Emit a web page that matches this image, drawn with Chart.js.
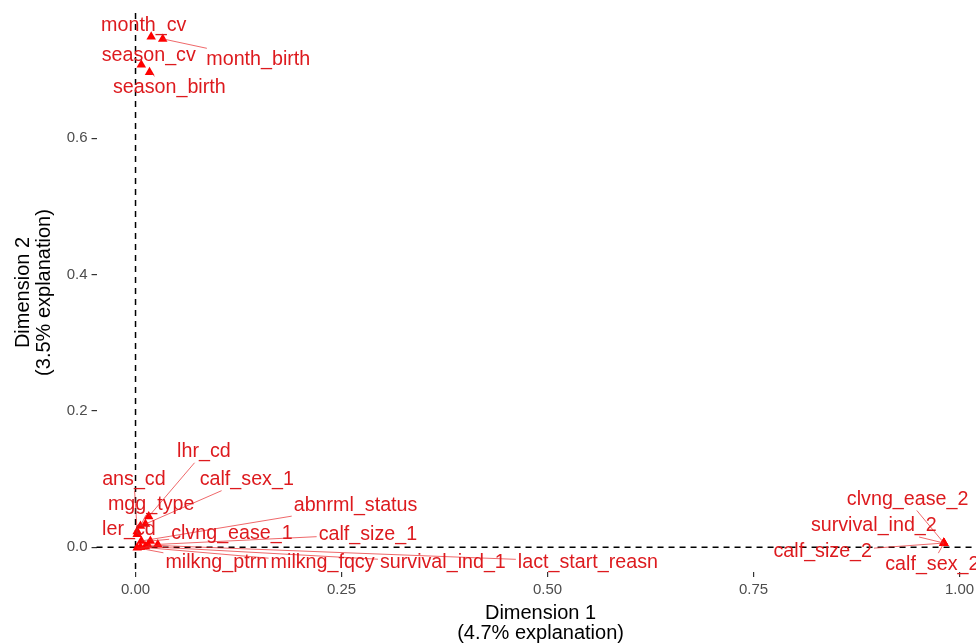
<!DOCTYPE html>
<html>
<head>
<meta charset="utf-8">
<script src="https://cdn.jsdelivr.net/npm/chart.js@4"></script>
<style>
html, body { margin: 0; padding: 0; background: #fff; overflow: hidden; width: 976px; height: 644px; }
</style>
</head>
<body>
<canvas id="chart" width="990" height="644"></canvas>
<script>
const categories = [
  'month_cv', 'month_birth', 'season_cv', 'season_birth',
  'lhr_cd', 'ans_cd', 'calf_sex_1', 'mgg_type', 'ler_cd',
  'abnrml_status', 'clvng_ease_1', 'calf_size_1',
  'milkng_ptrn', 'milkng_fqcy', 'survival_ind_1', 'lact_start_reasn',
  'clvng_ease_2', 'survival_ind_2', 'calf_size_2', 'calf_sex_2'
];
// point coordinates
const dim1 = [0.019, 0.033, 0.007, 0.017,
  0.016, 0.002, 0.012, 0.006, 0.002,
  0.007, 0.018, 0.027,
  0.002, 0.006, 0.012, 0.015,
  0.981, 0.981, 0.981, 0.981];
const dim2 = [0.749, 0.746, 0.708, 0.697,
  0.045, 0.023, 0.034, 0.031, 0.019,
  0.009, 0.009, 0.004,
  -0.001, 0.000, 0.001, 0.003,
  0.006, 0.006, 0.006, 0.006];
// where the repelled labels ended up
const labelDim1 = [0.010, 0.149, 0.016, 0.041,
  0.083, -0.002, 0.135, 0.019, -0.008,
  0.267, 0.117, 0.282,
  0.098, 0.227, 0.373, 0.549,
  0.937, 0.896, 0.834, 0.967];
const labelDim2 = [0.766, 0.716, 0.722, 0.675,
  0.140, 0.099, 0.099, 0.063, 0.026,
  0.061, 0.020, 0.019,
  -0.023, -0.023, -0.023, -0.022,
  0.070, 0.031, -0.007, -0.025];

const xTicks = [0, 0.25, 0.5, 0.75, 1];
const yTicks = [0, 0.2, 0.4, 0.6];

const FONT = '"Liberation Sans", Arial, sans-serif';

const zeroLines = {
  id: 'zeroLines',
  beforeDatasetsDraw(chart) {
    const { ctx, chartArea: a, scales: { x, y } } = chart;
    const x0 = x.getPixelForValue(0);
    const y0 = y.getPixelForValue(0);
    ctx.save();
    ctx.strokeStyle = '#000';
    ctx.lineWidth = 1.5;
    ctx.setLineDash([6, 5]);
    ctx.beginPath();
    ctx.moveTo(x0, a.top);
    ctx.lineTo(x0, a.bottom);
    ctx.moveTo(a.left, y0);
    ctx.lineTo(a.right, y0);
    ctx.stroke();
    ctx.restore();
  }
};

const repelLabels = {
  id: 'repelLabels',
  afterDatasetsDraw(chart) {
    const { ctx, scales: { x, y } } = chart;
    ctx.save();
    ctx.font = '19.7px ' + FONT;
    ctx.textAlign = 'center';
    ctx.textBaseline = 'middle';
    ctx.strokeStyle = '#e8262a';
    ctx.lineWidth = 0.7;
    categories.forEach((name, i) => {
      const px = x.getPixelForValue(dim1[i]);
      const py = y.getPixelForValue(dim2[i]);
      const lx = x.getPixelForValue(labelDim1[i]);
      const ly = y.getPixelForValue(labelDim2[i]);
      const w = ctx.measureText(name).width / 2 + 2;
      const h = 11;
      const dx = px - lx, dy = py - ly;
      const t = Math.min(dx ? w / Math.abs(dx) : Infinity, dy ? h / Math.abs(dy) : Infinity);
      if (t < 1) {
        const ex = lx + dx * t, ey = ly + dy * t;
        if (Math.hypot(px - ex, py - ey) > 6) {
          ctx.beginPath();
          ctx.moveTo(px, py);
          ctx.lineTo(ex, ey);
          ctx.stroke();
        }
      }
    });
    ctx.fillStyle = '#dd1a1e';
    categories.forEach((name, i) => {
      ctx.fillText(name, x.getPixelForValue(labelDim1[i]), y.getPixelForValue(labelDim2[i]));
    });
    ctx.restore();
  }
};

new Chart(document.getElementById('chart'), {
  type: 'scatter',
  data: {
    datasets: [{
      data: categories.map((c, i) => ({ x: dim1[i], y: dim2[i] })),
      pointStyle: 'triangle',
      radius: 5.5,
      backgroundColor: 'red',
      borderColor: 'red',
      borderWidth: 0
    }]
  },
  options: {
    responsive: false,
    animation: false,
    devicePixelRatio: 1,
    layout: { padding: { left: 8.7, top: 6, right: 0, bottom: 1 } },
    plugins: { legend: { display: false }, tooltip: { enabled: false } },
    scales: {
      x: {
        type: 'linear',
        min: -0.0473,
        max: 1.0303,
        afterBuildTicks: s => { s.ticks = xTicks.map(v => ({ value: v })); },
        ticks: {
          callback: v => v.toFixed(2),
          color: '#4d4d4d',
          font: { size: 15, family: FONT },
          padding: 4,
          maxRotation: 0,
          autoSkip: false
        },
        grid: { drawOnChartArea: false, drawTicks: true, tickLength: 5, color: '#333', lineWidth: 1.2 },
        border: { display: false },
        title: {
          display: true,
          text: ['Dimension 1', '(4.7% explanation)'],
          color: '#000',
          font: { size: 20, family: FONT, lineHeight: 1.0 },
          padding: { top: 0, bottom: 0 }
        }
      },
      y: {
        type: 'linear',
        min: -0.0365,
        max: 0.784,
        afterBuildTicks: s => { s.ticks = yTicks.map(v => ({ value: v })); },
        ticks: {
          callback: v => v.toFixed(1),
          color: '#4d4d4d',
          font: { size: 15, family: FONT },
          padding: 4,
          autoSkip: false
        },
        grid: { drawOnChartArea: false, drawTicks: true, tickLength: 5, color: '#333', lineWidth: 1.2 },
        border: { display: false },
        title: {
          display: true,
          text: ['Dimension 2', '(3.5% explanation)'],
          color: '#000',
          font: { size: 20, family: FONT, lineHeight: 1.05 },
          padding: { top: 4, bottom: 8 }
        }
      }
    }
  },
  plugins: [zeroLines, repelLabels]
});
</script>
</body>
</html>
